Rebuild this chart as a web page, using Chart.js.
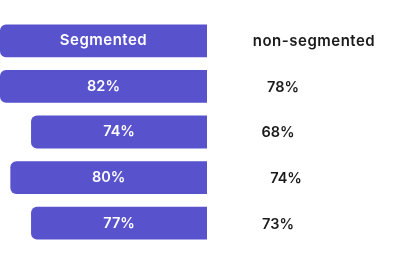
<!DOCTYPE html>
<html>
<head>
<meta charset="utf-8">
<script src="https://cdn.jsdelivr.net/npm/chart.js@4.4.1/dist/chart.umd.min.js"></script>
<style>
  html, body { margin: 0; padding: 0; background: #ffffff; }
  #wrap { width: 417px; height: 266px; }
</style>
</head>
<body>
<div id="wrap"><canvas id="chartSegmentos"></canvas></div>
<script>
// datos
const headerSegmented = 'Segmented';
const headerNonSegmented = 'non-segmented';
const segmentedValues = [82, 74, 80, 77];
const nonSegmentedValues = [78, 68, 74, 73];
// largo relativo de cada barra (cabecera + filas)
const barLengths = [100, 100, 85, 95, 85];

const rowLabels = [headerSegmented].concat(segmentedValues.map(v => v + '%'));
const rightLabels = [headerNonSegmented].concat(nonSegmentedValues.map(v => v + '%'));

// centro horizontal de los textos de la derecha
const rightCenters = [314, 283, 278, 286, 278];

const FONT = '"Inter", "Open Sans", sans-serif';

const textosPlugin = {
    id: 'textos',
    afterDatasetsDraw(chart) {
        const ctx = chart.ctx;
        const meta = chart.getDatasetMeta(0);
        ctx.save();
        ctx.textBaseline = 'middle';
        ctx.textAlign = 'center';
        meta.data.forEach((bar, i) => {
            const left = Math.min(bar.x, bar.base);
            const right = Math.max(bar.x, bar.base);
            // cabecera con letras más separadas, porcentajes normales
            if (i === 0) {
                ctx.letterSpacing = '0.5px';
                ctx.font = '600 15px ' + FONT;
            } else {
                ctx.letterSpacing = '0px';
                ctx.font = '600 14.5px ' + FONT;
            }
            ctx.fillStyle = '#ffffff';
            ctx.fillText(rowLabels[i], (left + right) / 2, bar.y);

            ctx.fillStyle = '#1a1a1a';
            ctx.fillText(rightLabels[i], rightCenters[i], bar.y + 1);
        });
        ctx.restore();
    }
};

new Chart(document.getElementById('chartSegmentos'), {
    type: 'bar',
    data: {
        labels: rowLabels,
        datasets: [{
            data: barLengths,
            backgroundColor: '#5852cd',
            borderRadius: 6,
            borderSkipped: 'start',
            barPercentage: 0.72,
            categoryPercentage: 1
        }]
    },
    options: {
        indexAxis: 'y',
        responsive: true,
        maintainAspectRatio: false,
        animation: false,
        layout: { padding: { left: 0, right: 210, top: 18, bottom: 20 } },
        scales: {
            x: { reverse: true, min: 0, max: 100, display: false },
            y: { display: false }
        },
        plugins: {
            legend: { display: false },
            tooltip: { enabled: false }
        }
    },
    plugins: [textosPlugin]
});
</script>
</body>
</html>
